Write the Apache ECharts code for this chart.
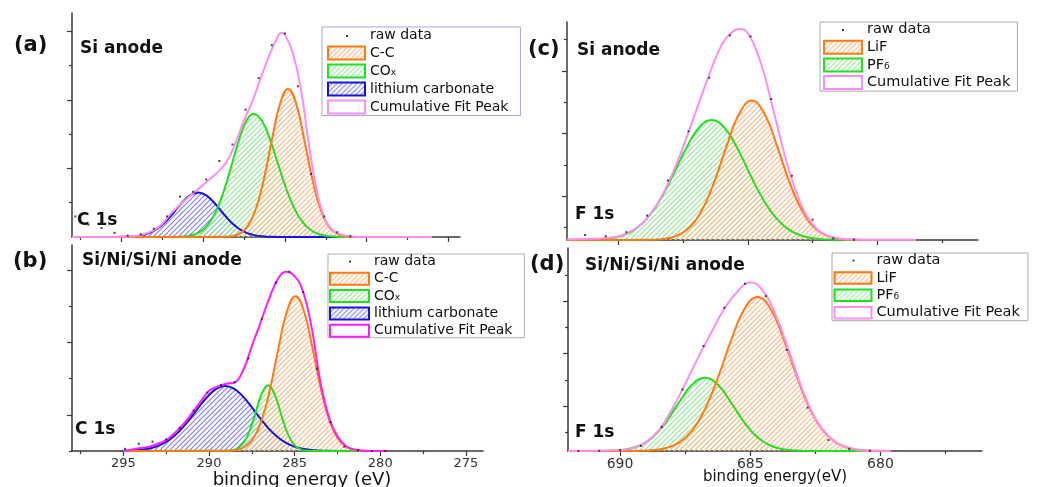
<!DOCTYPE html>
<html>
<head>
<meta charset="utf-8">
<title>XPS C 1s / F 1s peak fits</title>
<script src="https://cdn.jsdelivr.net/npm/echarts@6.0.0/dist/echarts.min.js"></script>
<style>
  html, body { margin: 0; padding: 0; background: #fff; }
  #chart { width: 1045px; height: 487px; }
</style>
</head>
<body>
<div id="chart"></div>
<script>
// ---- (a) C 1s, Si anode ----
const ccAx = [298, 288.8, 288.3, 287.8, 287.3, 286.8, 286.3, 285.8, 285.3, 284.8, 284.3, 283.8, 283.3, 282.8, 282.3, 281.8, 281.3, 280.8, 276];
const ccAy = [0, 0.002, 0.011, 0.046, 0.148, 0.389, 0.823, 1.407, 1.94, 2.16, 1.94, 1.407, 0.823, 0.389, 0.148, 0.046, 0.011, 0.002, 0];
const coxAx = [298, 291.9, 291.4, 290.9, 290.4, 289.9, 289.4, 288.9, 288.4, 287.9, 287.4, 286.9, 286.4, 285.9, 285.4, 284.9, 284.4, 283.9, 283.4, 282.9, 282.4, 281.9, 281.4, 276];
const coxAy = [0, 0.001, 0.0045, 0.016, 0.048, 0.125, 0.283, 0.551, 0.925, 1.339, 1.672, 1.80, 1.696, 1.419, 1.054, 0.695, 0.407, 0.212, 0.098, 0.040, 0.015, 0.005, 0.001, 0];
const li2Ax = [298, 295.3, 294.8, 294.3, 293.8, 293.3, 292.8, 292.3, 291.8, 291.3, 290.8, 290.3, 289.8, 289.3, 288.8, 288.3, 287.8, 287.3, 286.8, 286.3, 285.8, 285.3, 276];
const li2Ay = [0, 0.0008, 0.0027, 0.0086, 0.024, 0.057, 0.120, 0.220, 0.354, 0.496, 0.608, 0.65, 0.608, 0.496, 0.354, 0.220, 0.120, 0.057, 0.024, 0.0086, 0.0027, 0.0008, 0];
const sumAx = [298, 295.5, 295, 294.5, 294, 293.5, 293, 292.5, 292, 291.5, 291, 290.5, 290, 289.5, 289, 288.5, 288, 287.5, 287, 286.5, 286, 285.5, 285.2, 285, 284.5, 284, 283.5, 283, 282.5, 282, 281.5, 281, 280.5, 276];
const sumAy = [0, 0, 0.005, 0.01, 0.02, 0.05, 0.10, 0.19, 0.33, 0.45, 0.56, 0.66, 0.76, 0.86, 0.97, 1.12, 1.38, 1.70, 1.97, 2.30, 2.62, 2.89, 2.98, 2.96, 2.68, 2.13, 1.30, 0.62, 0.24, 0.08, 0.03, 0.01, 0, 0];
const rawAx = [297.8, 297.0, 296.2, 295.4, 294.6, 293.8, 293.0, 292.2, 291.4, 290.6, 289.8, 289.0, 288.2, 287.4, 286.6, 285.8, 285.0, 284.2, 283.4, 282.6, 281.8, 281.0];
const rawAy = [0.30, 0.18, 0.13, 0.06, 0.02, 0.04, 0.12, 0.30, 0.59, 0.66, 0.84, 1.11, 1.35, 1.86, 2.32, 2.80, 2.97, 2.20, 0.92, 0.30, 0.07, 0.01];

// ---- (b) C 1s, Si/Ni/Si/Ni anode ----
const ccBx = [295, 288.95, 288.45, 287.95, 287.45, 286.95, 286.45, 285.95, 285.45, 284.95, 284.45, 283.95, 283.45, 282.95, 282.45, 281.95, 281.45, 280.95, 279.6];
const ccBy = [0, 0.0029, 0.0135, 0.052, 0.162, 0.410, 0.844, 1.416, 1.930, 2.14, 1.930, 1.416, 0.844, 0.410, 0.162, 0.052, 0.0135, 0.0029, 0];
const coxBx = [295, 289.35, 288.95, 288.55, 288.15, 287.75, 287.35, 286.95, 286.55, 286.15, 285.75, 285.35, 284.95, 284.55, 284.15, 283.75, 279.6];
const coxBy = [0, 0.0003, 0.0025, 0.0154, 0.0668, 0.209, 0.474, 0.773, 0.91, 0.773, 0.474, 0.209, 0.0668, 0.0154, 0.0025, 0.0003, 0];
const li2Bx = [295.05, 294.55, 294.05, 293.55, 293.05, 292.55, 292.05, 291.55, 291.05, 290.55, 290.05, 289.55, 289.05, 288.55, 288.05, 287.55, 287.05, 286.55, 286.05, 285.55, 285.05, 284.55, 284.05, 283.55, 283.05, 282.55, 279.6];
const li2By = [0.0024, 0.0061, 0.0146, 0.032, 0.064, 0.119, 0.204, 0.321, 0.465, 0.621, 0.763, 0.864, 0.9, 0.864, 0.763, 0.621, 0.465, 0.321, 0.204, 0.119, 0.064, 0.032, 0.0146, 0.0061, 0.0024, 0.0008, 0];
const sumBx = [295, 294.5, 294, 293.5, 293, 292.5, 292, 291.5, 291, 290.5, 290, 289.5, 289, 288.5, 288, 287.5, 287, 286.5, 286, 285.5, 285, 284.5, 284, 283.5, 283, 282.5, 282, 281.5, 281, 280.5, 280, 279.6];
const sumBy = [0, 0.02, 0.04, 0.06, 0.10, 0.15, 0.25, 0.37, 0.52, 0.68, 0.83, 0.89, 0.93, 0.95, 1.12, 1.45, 1.77, 2.10, 2.37, 2.48, 2.42, 2.20, 1.70, 0.96, 0.47, 0.20, 0.07, 0.02, 0.005, 0, 0, 0];
const rawBx = [294.9, 294.1, 293.3, 292.5, 291.7, 290.9, 290.1, 289.3, 288.5, 287.7, 286.9, 286.1, 285.3, 284.5, 283.7, 282.9, 282.1, 281.3, 280.5, 279.7];
const rawBy = [0.03, 0.10, 0.13, 0.16, 0.32, 0.56, 0.81, 0.91, 0.95, 1.28, 1.83, 2.33, 2.48, 2.20, 1.14, 0.40, 0.06, 0.01, 0, 0];

// ---- (c) F 1s, Si anode ----
const lifCx = [692, 688.85, 688.35, 687.85, 687.35, 686.85, 686.35, 685.85, 685.35, 684.85, 684.35, 683.85, 683.35, 682.85, 682.35, 681.85, 681.35, 680.85, 678.5];
const lifCy = [0, 0.006, 0.028, 0.108, 0.336, 0.852, 1.756, 2.944, 4.013, 4.45, 4.013, 2.944, 1.756, 0.852, 0.336, 0.108, 0.028, 0.006, 0];
const pf6Cx = [692, 691.4, 690.9, 690.4, 689.9, 689.4, 688.9, 688.4, 687.9, 687.4, 686.9, 686.4, 685.9, 685.4, 684.9, 684.4, 683.9, 683.4, 682.9, 682.4, 681.9, 681.4, 680.9, 678.5];
const pf6Cy = [0, 0.004, 0.0148, 0.0475, 0.133, 0.324, 0.689, 1.278, 2.066, 2.911, 3.576, 3.83, 3.576, 2.911, 2.066, 1.278, 0.689, 0.324, 0.133, 0.0475, 0.0148, 0.004, 0.001, 0];
const sumCx = [692, 691.5, 691, 690.5, 690, 689.5, 689, 688.5, 688, 687.5, 687, 686.5, 686, 685.5, 685.3, 685, 684.5, 684, 683.5, 683, 682.5, 682, 681.5, 681, 680.5, 680, 679.5, 679, 678.5];
const sumCy = [0.02, 0.03, 0.04, 0.06, 0.12, 0.28, 0.60, 1.16, 1.97, 2.99, 4.13, 5.27, 6.25, 6.70, 6.74, 6.60, 5.65, 4.09, 2.48, 1.24, 0.51, 0.17, 0.05, 0.02, 0.01, 0.01, 0.01, 0.01, 0.01];
const rawCx = [691.3, 690.5, 689.7, 688.9, 688.1, 687.3, 686.5, 685.7, 684.9, 684.1, 683.3, 682.5, 681.7, 680.9];
const rawCy = [0.16, 0.12, 0.25, 0.78, 1.90, 3.47, 5.18, 6.53, 6.50, 4.50, 2.05, 0.65, 0.05, 0.01];

// ---- (d) F 1s, Si/Ni/Si/Ni anode ----
const lifDx = [692, 689.72, 689.22, 688.72, 688.22, 687.72, 687.22, 686.72, 686.22, 685.72, 685.22, 684.72, 684.22, 683.72, 683.22, 682.72, 682.22, 681.72, 681.22, 680.72, 680.22, 679.72, 679.6];
const lifDy = [0, 0.002, 0.009, 0.035, 0.116, 0.329, 0.793, 1.629, 2.853, 4.255, 5.409, 5.86, 5.409, 4.255, 2.853, 1.629, 0.793, 0.329, 0.116, 0.035, 0.009, 0.002, 0];
const pf6Dx = [692, 690.74, 690.24, 689.74, 689.24, 688.74, 688.24, 687.74, 687.24, 686.74, 686.24, 685.74, 685.24, 684.74, 684.24, 683.74, 683.24, 682.74, 679.6];
const pf6Dy = [0, 0.0038, 0.0176, 0.068, 0.211, 0.534, 1.101, 1.846, 2.516, 2.79, 2.516, 1.846, 1.101, 0.534, 0.211, 0.068, 0.0176, 0.0038, 0];
const sumDx = [692, 691.5, 691, 690.5, 690, 689.5, 689, 688.5, 688, 687.5, 687, 686.5, 686, 685.5, 685, 684.5, 684, 683.5, 683, 682.5, 682, 681.5, 681, 680.5, 680, 679.6];
const sumDy = [0, 0, 0.01, 0.02, 0.04, 0.11, 0.33, 0.80, 1.60, 2.55, 3.55, 4.50, 5.40, 6.05, 6.42, 6.08, 5.12, 3.76, 2.34, 1.24, 0.56, 0.21, 0.07, 0.02, 0.005, 0];
const rawDx = [691.6, 690.8, 690.0, 689.2, 688.4, 687.6, 686.8, 686.0, 685.2, 684.4, 683.6, 682.8, 682.0, 681.2, 680.4];
const rawDy = [0, 0.01, 0.03, 0.19, 0.91, 2.34, 3.99, 5.45, 6.36, 5.89, 3.84, 1.65, 0.42, 0.08, 0.01];

// tick values
const tickC = [295, 290, 285, 280, 275];
const minorC = [297.5, 292.5, 287.5, 282.5, 277.5];
const tickF = [690, 685, 680];
const minorF = [687.5, 682.5, 677.5];
const yTickA = [1, 2, 3], yMinorA = [0.5, 1.5, 2.5];
const yTickB = [0.5, 1.5, 2.5], yMinorB = [0, 1, 2];
const yTickC = [1.4, 3.4, 5.4], yMinorC = [0.4, 2.4, 4.4, 6.4];
const yTickD = [1.7, 3.7, 5.7], yMinorD = [0.7, 2.7, 4.7, 6.7];

const FONT = 'DejaVu Sans';
const AXIS = '#383838';
const ORANGE = '#ff7a12', GREEN = '#20e020', BLUE = '#1414e0';
const PINK = '#ff8cf4', MAGENTA = '#ff1cff';

function hatch(color, w) {
  const s = 5;
  const c = document.createElement('canvas');
  c.width = s; c.height = s;
  const g = c.getContext('2d');
  g.strokeStyle = color;
  g.lineWidth = w;
  g.beginPath();
  g.moveTo(0, s); g.lineTo(s, 0);
  g.moveTo(-1, 1); g.lineTo(1, -1);
  g.moveTo(s - 1, s + 1); g.lineTo(s + 1, s - 1);
  g.stroke();
  return { image: c, repeat: 'repeat' };
}
const hOrange = hatch('#ffb685', 1.1), hGreen = hatch('#90e890', 1.1), hBlue = hatch('#8282ee', 1.2);

function dotIcon(w, h) {
  const c = document.createElement('canvas');
  c.width = w; c.height = h;
  const g = c.getContext('2d');
  g.fillStyle = '#111';
  g.fillRect(Math.round(w / 2) - 1, Math.round(h / 2) - 1, 2, 2);
  return 'image://' + c.toDataURL();
}

const pairs = (xs, ys) => xs.map((x, i) => [x, ys[i]]);

const panels = [
  { grid: { left: 72, top: 13, width: 388, height: 224 }, x: [274.3, 298], yMax: 3.27,
    xMajor: tickC, xMinor: minorC, yMajor: yTickA, yMinor: yMinorA, labels: false },
  { grid: { left: 72, top: 245, width: 411, height: 206 }, x: [274, 298], yMax: 2.85,
    xMajor: tickC, xMinor: minorC, yMajor: yTickB, yMinor: yMinorB, labels: true, labelSize: 13 },
  { grid: { left: 567, top: 22, width: 411, height: 218 }, x: [676.1, 692], yMax: 6.96,
    xMajor: tickF, xMinor: minorF, yMajor: yTickC, yMinor: yMinorC, labels: false },
  { grid: { left: 568, top: 248, width: 414, height: 203 }, x: [676.1, 692], yMax: 7.72,
    xMajor: tickF, xMinor: minorF, yMajor: yTickD, yMinor: yMinorD, labels: true, labelSize: 14 }
];

const xAxis = [], yAxis = [];
panels.forEach((p, i) => {
  xAxis[i] = {
    type: 'value', gridIndex: i, min: p.x[0], max: p.x[1], inverse: true, position: 'bottom',
    axisLine: { show: true, onZero: false, lineStyle: { color: AXIS, width: 1.5 } },
    axisTick: { show: true, length: 5, lineStyle: { color: AXIS, width: 1.2 }, customValues: p.xMajor },
    axisLabel: { show: p.labels, customValues: p.xMajor, margin: 6, fontFamily: FONT, fontSize: p.labelSize || 13, color: '#333' },
    splitLine: { show: false }
  };
  xAxis[i + 4] = {
    type: 'value', gridIndex: i, min: p.x[0], max: p.x[1], inverse: true, position: 'bottom',
    axisLine: { show: false },
    axisTick: { show: true, length: 3, lineStyle: { color: AXIS, width: 1.2 }, customValues: p.xMinor },
    axisLabel: { show: false }, splitLine: { show: false }
  };
  yAxis[i] = {
    type: 'value', gridIndex: i, min: 0, max: p.yMax, position: 'left',
    axisLine: { show: true, onZero: false, lineStyle: { color: AXIS, width: 1.5 } },
    axisTick: { show: true, length: 5, lineStyle: { color: AXIS, width: 1.2 }, customValues: p.yMajor },
    axisLabel: { show: false }, splitLine: { show: false }
  };
  yAxis[i + 4] = {
    type: 'value', gridIndex: i, min: 0, max: p.yMax, position: 'left',
    axisLine: { show: false },
    axisTick: { show: true, length: 3, lineStyle: { color: AXIS, width: 1.2 }, customValues: p.yMinor },
    axisLabel: { show: false }, splitLine: { show: false }
  };
});

function peak(name, i, xs, ys, color, fill) {
  const s = {
    type: 'line', name, xAxisIndex: i, yAxisIndex: i, data: pairs(xs, ys),
    smooth: 0.45, symbol: 'none', clip: true,
    lineStyle: { color, width: 2 }, itemStyle: { color }, z: 2
  };
  if (fill) s.areaStyle = { color: fill, opacity: 1 };
  return s;
}
function raw(i, xs, ys) {
  return {
    type: 'scatter', name: 'raw data', xAxisIndex: i, yAxisIndex: i, data: pairs(xs, ys),
    symbol: 'rect', symbolSize: 2, itemStyle: { color: '#1a1a1a' }, z: 4
  };
}

const series = [
  peak('lithium carbonate', 0, li2Ax, li2Ay, BLUE, hBlue),
  peak('COx', 0, coxAx, coxAy, GREEN, hGreen),
  peak('C-C', 0, ccAx, ccAy, ORANGE, hOrange),
  peak('Cumulative Fit Peak', 0, sumAx, sumAy, PINK),
  raw(0, rawAx, rawAy),

  peak('lithium carbonate', 1, li2Bx, li2By, BLUE, hBlue),
  peak('COx', 1, coxBx, coxBy, GREEN, hGreen),
  peak('C-C', 1, ccBx, ccBy, ORANGE, hOrange),
  peak('Cumulative Fit Peak', 1, sumBx, sumBy, MAGENTA),
  raw(1, rawBx, rawBy),

  peak('PF6', 2, pf6Cx, pf6Cy, GREEN, hGreen),
  peak('LiF', 2, lifCx, lifCy, ORANGE, hOrange),
  peak('Cumulative Fit Peak', 2, sumCx, sumCy, PINK),
  raw(2, rawCx, rawCy),

  peak('PF6', 3, pf6Dx, pf6Dy, GREEN, hGreen),
  peak('LiF', 3, lifDx, lifDy, ORANGE, hOrange),
  peak('Cumulative Fit Peak', 3, sumDx, sumDy, PINK),
  raw(3, rawDx, rawDy)
];

function legendFormatter(name) {
  if (name === 'COx') return '{n|CO}{s|x}';
  if (name === 'PF6') return '{n|PF}{s|6}';
  return '{n|' + name + '}';
}
function legend(pos, names, border, pink, w, h, gap, size) {
  const items = names.map(n => {
    if (n === 'raw data') return { name: n, icon: dotIcon(w, Math.round(h)) };
    const st = {
      'C-C': [hOrange, ORANGE], 'LiF': [hOrange, ORANGE], 'COx': [hGreen, GREEN], 'PF6': [hGreen, GREEN],
      'lithium carbonate': [hBlue, BLUE], 'Cumulative Fit Peak': ['#ffffff', pink]
    }[n];
    return { name: n, icon: 'rect', itemStyle: { color: st[0], borderColor: st[1], borderWidth: 2 } };
  });
  return Object.assign({
    orient: 'vertical', itemWidth: w, itemHeight: h, itemGap: gap,
    borderColor: border, borderWidth: 1, selectedMode: false,
    formatter: legendFormatter,
    textStyle: {
      fontFamily: FONT, fontSize: size, color: '#111', lineHeight: h,
      rich: {
        n: { fontFamily: FONT, fontSize: size, color: '#111', lineHeight: h },
        s: { fontFamily: FONT, fontSize: 9, color: '#111', lineHeight: 5, verticalAlign: 'bottom' }
      }
    },
    data: items
  }, pos);
}

const legends = [
  legend({ left: 322, top: 27, padding: [1.5, 12, 1, 5] },
    ['raw data', 'C-C', 'COx', 'lithium carbonate', 'Cumulative Fit Peak'], '#a5a5e6', PINK, 37, 13, 3, 14),
  legend({ left: 328, top: 254, padding: [0.5, 12, 0, 1] },
    ['raw data', 'C-C', 'COx', 'lithium carbonate', 'Cumulative Fit Peak'], '#b0b0b0', MAGENTA, 39, 12, 3.3, 14),
  legend({ left: 820, top: 22, padding: [0, 7, 1, 3] },
    ['raw data', 'LiF', 'PF6', 'Cumulative Fit Peak'], '#a8a8a8', PINK, 38, 13, 2.7, 14.5),
  legend({ left: 832, top: 253, padding: [0, 8, 0.5, 1.5] },
    ['raw data', 'LiF', 'PF6', 'Cumulative Fit Peak'], '#a8a8a8', PINK, 37, 11.5, 2.4, 14.5)
];

function label(text, x, y, size, bold, align) {
  return {
    type: 'text', x, y, z: 10,
    style: {
      text, fill: '#111', align: align || 'left', verticalAlign: 'middle',
      font: (bold ? 'bold ' : '') + size + 'px "' + FONT + '"'
    }
  };
}
const texts = [
  label('(a)', 14, 46, 21, true),
  label('Si anode', 80, 48.5, 17, true),
  label('C 1s', 77, 221, 17, true),
  label('(b)', 13, 261.5, 21, true),
  label('Si/Ni/Si/Ni anode', 82, 261, 17, true),
  label('C 1s', 75, 430, 17, true),
  label('(c)', 528, 50, 21, true),
  label('Si anode', 577, 51, 17, true),
  label('F 1s', 575, 214.5, 17, true),
  label('(d)', 530, 265, 21, true),
  label('Si/Ni/Si/Ni anode', 585, 265.5, 17, true),
  label('F 1s', 575, 433, 17, true),
  label('binding energy (eV)', 302, 480.5, 18, false, 'center'),
  label('binding energy(eV)', 775, 477.5, 15, false, 'center')
];

const chart = echarts.init(document.getElementById('chart'), null, { renderer: 'canvas' });
chart.setOption({
  animation: false,
  backgroundColor: '#ffffff',
  textStyle: { fontFamily: FONT },
  grid: panels.map(p => Object.assign({ show: false, containLabel: false, outerBoundsMode: 'none' }, p.grid)),
  xAxis,
  yAxis,
  legend: legends,
  graphic: texts,
  series
});
</script>
</body>
</html>
